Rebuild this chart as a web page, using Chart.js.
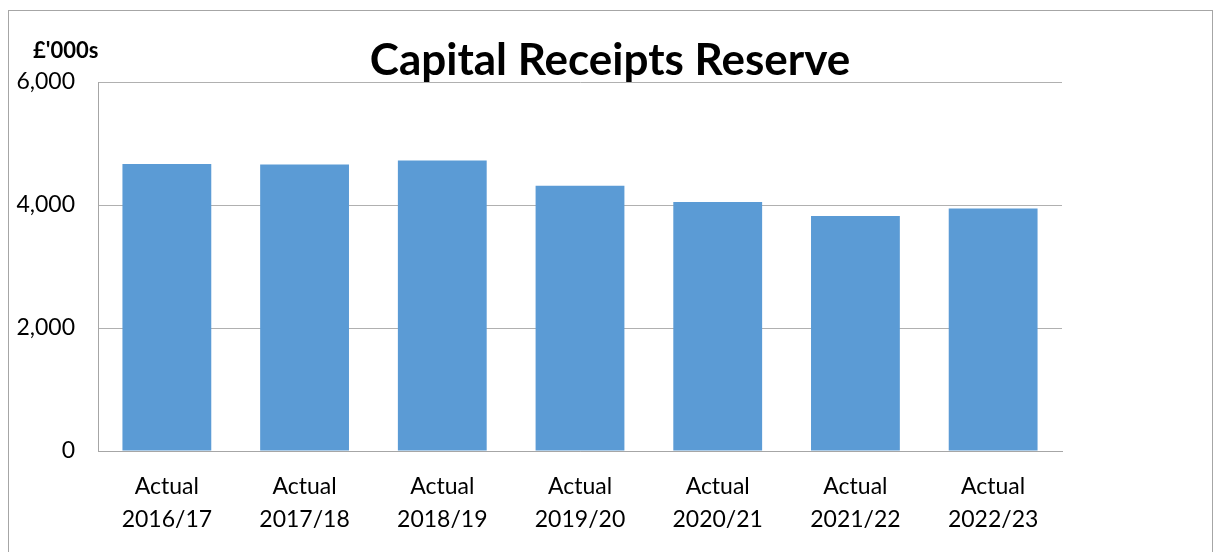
<!DOCTYPE html>
<html>
<head>
<meta charset="utf-8">
<script src="https://cdn.jsdelivr.net/npm/chart.js@4/dist/chart.umd.min.js"></script>
<style>
  html, body { margin: 0; padding: 0; background: #fff; }
  #wrap { width: 1215px; height: 552px; position: relative; }
</style>
</head>
<body>
<div id="wrap"><canvas id="chart" width="1215" height="552"></canvas></div>
<script>
var years = ["2016/17", "2017/18", "2018/19", "2019/20", "2020/21", "2021/22", "2022/23"];
var reserveValues = [4665, 4660, 4725, 4315, 4050, 3820, 3945];
var yTicks = [0, 2000, 4000, 6000];

var labels = years.map(function(y){ return ["Actual", y]; });

// frame, title and unit label drawn on the canvas
var decor = {
  id: 'decor',
  beforeDraw: function(chart){
    var c = chart.ctx;
    c.save();
    c.fillStyle = '#fff';
    c.fillRect(0, 0, chart.width, chart.height);
    c.strokeStyle = '#a6a6a6';
    c.lineWidth = 1;
    c.strokeRect(8.5, 10.5, 1204, 560);
    c.restore();
  },
  afterDraw: function(chart){
    var c = chart.ctx;
    c.save();
    c.fillStyle = '#000';
    c.textBaseline = 'alphabetic';
    c.textAlign = 'center';
    c.font = 'bold 44px Lato';
    c.fillText('Capital Receipts Reserve', 610, 75);
    c.textAlign = 'left';
    c.font = 'bold 22px Lato';
    c.fillText("£'000s", 33, 58);
    c.restore();
  }
};

new Chart(document.getElementById('chart'), {
  type: 'bar',
  data: {
    labels: labels,
    datasets: [{
      data: reserveValues,
      backgroundColor: '#5b9bd5',
      borderWidth: 0,
      barPercentage: 0.645,
      categoryPercentage: 1
    }]
  },
  options: {
    responsive: false,
    animation: false,
    layout: { padding: { left: 0, right: 153, top: 82, bottom: 0 } },
    plugins: { legend: { display: false }, tooltip: { enabled: false } },
    scales: {
      x: {
        grid: { display: false },
        border: { display: true, color: '#a6a6a6' },
        ticks: { color: '#000', font: { family: 'Lato', size: 23, lineHeight: 1.45 }, padding: 11, maxRotation: 0 },
        afterFit: function(s){ s.height = 101; }
      },
      y: {
        min: 0,
        max: 6000,
        afterBuildTicks: function(s){ s.ticks = yTicks.map(function(v){ return { value: v }; }); },
        grid: { color: '#b0b0b0', drawTicks: false },
        border: { display: true, color: '#a6a6a6' },
        ticks: {
          color: '#000',
          font: { family: 'Lato', size: 23 },
          padding: 23,
          callback: function(v){ return v.toLocaleString('en-GB'); }
        },
        afterFit: function(s){ s.width = 98; }
      }
    }
  },
  plugins: [decor]
});
</script>
</body>
</html>
